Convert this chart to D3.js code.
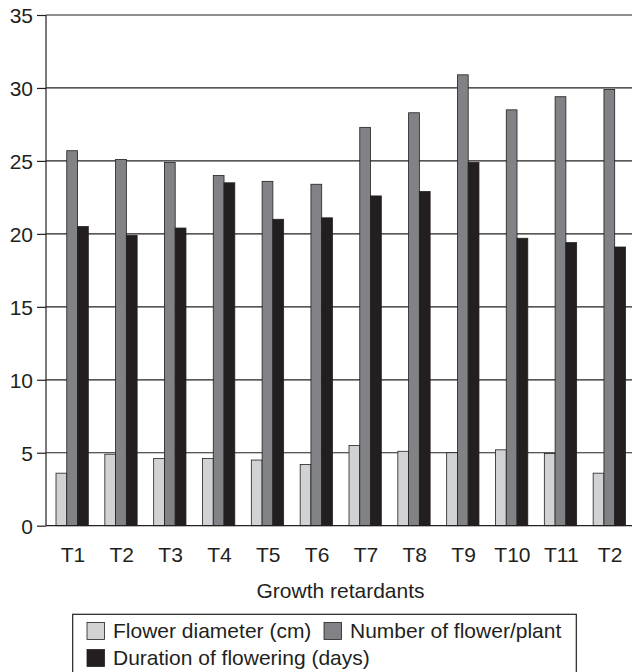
<!DOCTYPE html>
<html>
<head>
<meta charset="utf-8">
<script src="https://cdn.jsdelivr.net/npm/d3@7"></script>
<style>
  body { margin: 0; background: #fff; }
  svg { display: block; font-family: "Liberation Sans", Arial, sans-serif; }
</style>
</head>
<body>
<svg id="chart" width="633" height="672"></svg>
<script>
// data
const treatments = ["T1", "T2", "T3", "T4", "T5", "T6", "T7", "T8", "T9", "T10", "T11", "T2"];
const flowerDiameter = [3.6, 4.9, 4.6, 4.6, 4.5, 4.2, 5.5, 5.1, 5.0, 5.2, 4.95, 3.6];
const flowerNumber   = [25.7, 25.1, 24.9, 24.0, 23.6, 23.4, 27.3, 28.3, 30.9, 28.5, 29.4, 29.9];
const floweringDays  = [20.5, 19.9, 20.4, 23.5, 21.0, 21.1, 22.6, 22.9, 24.9, 19.7, 19.4, 19.1];
const seriesNames = ["Flower diameter (cm)", "Number of flower/plant", "Duration of flowering (days)"];
const yTicks = [0, 5, 10, 15, 20, 25, 30, 35];

const colors = ["#d1d2d4", "#808285", "#231f20"];
const series = [flowerDiameter, flowerNumber, floweringDays];

let chart = d3.select("#chart");

// scales
let x0 = d3.scaleBand()
    .domain(d3.range(treatments.length))
    .range([46, 632]);

let x1 = d3.scaleBand()
    .domain(d3.range(series.length))
    .range([10, 42.3]);

let y = d3.scaleLinear()
    .domain([0, 35])
    .range([525.7, 15]);

// gridlines
chart.append("g")
    .selectAll("line")
    .data(yTicks.filter(d => d > 0))
    .join("line")
    .attr("x1", 46)
    .attr("x2", 632)
    .attr("y1", d => y(d))
    .attr("y2", d => y(d))
    .attr("stroke", "#231f20")
    .attr("stroke-width", 1.2);

// bars
let groups = chart.append("g")
    .selectAll("g")
    .data(treatments.map((t, i) => i))
    .join("g")
    .attr("transform", i => "translate(" + x0(i) + ",0)");

groups.selectAll("rect")
    .data(i => series.map((s, k) => ({k: k, v: s[i]})))
    .join("rect")
    .attr("x", d => x1(d.k))
    .attr("width", x1.bandwidth())
    .attr("y", d => y(d.v))
    .attr("height", d => y(0) - y(d.v))
    .attr("fill", d => colors[d.k])
    .attr("stroke", "#231f20")
    .attr("stroke-width", 0.8);

// y axis
let yAxis = d3.axisLeft(y)
    .tickValues(yTicks)
    .tickSize(9)
    .tickPadding(4);
let yAxisGroup = chart.append("g")
    .attr("transform", "translate(46,0)")
    .call(yAxis);
yAxisGroup.select(".domain").remove();
yAxisGroup.selectAll("line").attr("stroke", "#231f20").attr("stroke-width", 1.2);
yAxisGroup.selectAll("text")
    .style("font-size", "21px")
    .attr("fill", "#231f20")
    .attr("dy", "0.36em");

// axis lines
chart.append("line")
    .attr("x1", 46).attr("x2", 46)
    .attr("y1", y(35)).attr("y2", y(0))
    .attr("stroke", "#231f20").attr("stroke-width", 1.2);
chart.append("line")
    .attr("x1", 46).attr("x2", 632)
    .attr("y1", y(0)).attr("y2", y(0))
    .attr("stroke", "#231f20").attr("stroke-width", 1.2);

// x labels
let xAxis = d3.axisBottom(x0)
    .tickSize(0)
    .tickPadding(21)
    .tickFormat(i => treatments[i]);
let xAxisGroup = chart.append("g")
    .attr("transform", "translate(2.5," + y(0) + ")")
    .call(xAxis);
xAxisGroup.select(".domain").remove();
xAxisGroup.selectAll("text")
    .style("font-size", "21px")
    .attr("fill", "#231f20");

// x axis title
chart.append("text")
    .text("Growth retardants")
    .attr("x", 340.5)
    .attr("y", 598)
    .attr("text-anchor", "middle")
    .style("font-size", "21px")
    .attr("fill", "#231f20");

// legend
chart.append("rect")
    .attr("x", 72.7)
    .attr("y", 614.3)
    .attr("width", 503.6)
    .attr("height", 70)
    .attr("fill", "none")
    .attr("stroke", "#231f20")
    .attr("stroke-width", 1.2);

const legendPos = [
    {x: 87, y: 622.5},
    {x: 324, y: 622.5},
    {x: 87, y: 649.5}
];
let legend = chart.append("g")
    .selectAll("g")
    .data(seriesNames.map((n, k) => k))
    .join("g")
    .attr("transform", k => "translate(" + legendPos[k].x + "," + legendPos[k].y + ")");
legend.append("rect")
    .attr("width", 17.5)
    .attr("height", 17)
    .attr("fill", k => colors[k])
    .attr("stroke", "#231f20")
    .attr("stroke-width", 0.8);
legend.append("text")
    .text(k => seriesNames[k])
    .attr("x", 26)
    .attr("y", 15)
    .style("font-size", "21px")
    .attr("fill", "#231f20");
</script>
</body>
</html>
